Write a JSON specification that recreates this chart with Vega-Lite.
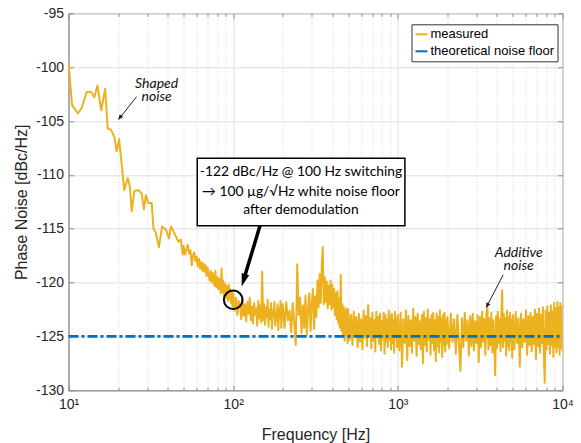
{
"$schema": "https://vega.github.io/schema/vega-lite/v6.json",
"width": 494, "height": 377,
"autosize": {"type": "none"},
"padding": {"left": 68.5, "top": 13.3, "right": 18.5, "bottom": 52.7},
"background": "white",
"config": {
  "view": {"stroke": "#8a8a8a", "strokeWidth": 1},
  "font": "Liberation Sans"
},
"resolve": {"axis": {"x": "independent", "y": "independent"}},
"datasets": {
"measured": [
{"f":10,"v":-99.5},{"f":10.5,"v":-103.5},{"f":11.4,"v":-104.3},{"f":12,"v":-103.8},{"f":12.9,"v":-102.3},{"f":13.7,"v":-102.3},{"f":14.35,"v":-102.8},{"f":15,"v":-101.7},{"f":15.8,"v":-104},{"f":16.7,"v":-102},{"f":17.3,"v":-105.7},{"f":18.1,"v":-105.8},{"f":19,"v":-106.5},{"f":19.6,"v":-107.8},{"f":20.3,"v":-106.7},{"f":21,"v":-108.9},{"f":21.8,"v":-111.4},{"f":22.9,"v":-110.3},{"f":23.6,"v":-111.1},{"f":24.2,"v":-113.4},{"f":25.1,"v":-111.5},{"f":26.5,"v":-111.4},{"f":27.8,"v":-111.7},{"f":28.7,"v":-113.2},{"f":29.5,"v":-111.9},{"f":30.5,"v":-112.6},{"f":32,"v":-112.6},{"f":32.8,"v":-115},{"f":33.8,"v":-115.3},{"f":35.4,"v":-116.7},{"f":37,"v":-114.8},{"f":39.1,"v":-115.1},{"f":40.8,"v":-115.9},{"f":41.9,"v":-114.8},{"f":43.3,"v":-115.2},{"f":45.2,"v":-115.8},{"f":46.4,"v":-116.2},{"f":48.2,"v":-116},{"f":49.4,"v":-117.4},
{"f":50,"v":-116.6},{"f":51,"v":-117.4},{"f":52,"v":-116.9},{"f":53,"v":-116.5},{"f":54,"v":-117.3},{"f":55,"v":-117},{"f":56,"v":-118.4},{"f":57,"v":-117.5},{"f":58,"v":-117.2},{"f":59,"v":-118},{"f":60,"v":-117.6},{"f":61,"v":-118.5},{"f":62,"v":-117.8},{"f":63,"v":-118.7},{"f":64,"v":-118.1},{"f":65,"v":-118.9},{"f":66,"v":-118.2},{"f":67,"v":-119},{"f":68,"v":-118.4},{"f":69,"v":-119.4},{"f":70,"v":-118.6},{"f":71,"v":-119.3},{"f":72,"v":-119.8},{"f":73,"v":-118.9},{"f":74,"v":-120},{"f":75,"v":-119.1},{"f":76,"v":-119.7},{"f":77,"v":-120.3},{"f":78,"v":-118.9},{"f":79,"v":-120.4},{"f":80,"v":-119.5},{"f":81,"v":-120.6},{"f":82,"v":-119.6},{"f":83,"v":-120.2},{"f":84,"v":-121},{"f":85,"v":-118.7},{"f":86,"v":-120.9},{"f":87,"v":-119.8},{"f":88,"v":-121.2},{"f":89,"v":-120.1},{"f":90,"v":-121.4},{"f":91,"v":-120.3},{"f":92,"v":-121},{"f":93,"v":-121.7},{"f":94,"v":-120.2},{"f":95,"v":-121.5},{"f":96,"v":-120.6},{"f":97,"v":-121.9},{"f":98,"v":-120.8},{"f":99,"v":-122.2},
{"f":100,"v":-121},{"f":102,"v":-122.6},{"f":104,"v":-121.4},{"f":106,"v":-123},{"f":108,"v":-121.7},{"f":110,"v":-122.3},{"f":112,"v":-123.4},{"f":114,"v":-121.5},{"f":116,"v":-123.1},{"f":118,"v":-122},{"f":120,"v":-123.6},{"f":122,"v":-121.8},{"f":124,"v":-122.9},{"f":126,"v":-121.4},{"f":128,"v":-123.5},{"f":130,"v":-122.2},{"f":132,"v":-123.8},{"f":134,"v":-121.9},{"f":136,"v":-123},{"f":138,"v":-122.4},{"f":140,"v":-124},{"f":142,"v":-121.7},{"f":144,"v":-123.3},{"f":146,"v":-122.1},{"f":148,"v":-123.7},{"f":150,"v":-119},{"f":152,"v":-123.5},{"f":154,"v":-122},{"f":156,"v":-123.9},{"f":158,"v":-122.3},{"f":160,"v":-123.2},{"f":162,"v":-121.6},{"f":164,"v":-124.1},{"f":166,"v":-122.5},{"f":168,"v":-123.4},{"f":170,"v":-121.9},{"f":172,"v":-124.3},{"f":174,"v":-122.6},{"f":176,"v":-123.1},{"f":178,"v":-121.8},{"f":180,"v":-124},{"f":182,"v":-122.7},{"f":184,"v":-123.6},{"f":186,"v":-122},{"f":188,"v":-124.4},{"f":190,"v":-122.4},{"f":192,"v":-123.3},{"f":194,"v":-121.7},{"f":196,"v":-124.2},{"f":198,"v":-122.8},
{"f":200,"v":-122},{"f":205,"v":-124.2},{"f":210,"v":-121.8},{"f":215,"v":-123.5},{"f":220,"v":-122.6},{"f":225,"v":-124.6},{"f":230,"v":-121.9},{"f":235,"v":-123.8},{"f":240,"v":-125.8},{"f":245,"v":-118.3},{"f":250,"v":-123},{"f":255,"v":-121.4},{"f":260,"v":-124.7},{"f":265,"v":-122.1},{"f":270,"v":-124.2},{"f":275,"v":-121.2},{"f":280,"v":-124.9},{"f":285,"v":-122.4},{"f":290,"v":-121},{"f":295,"v":-124.5},{"f":300,"v":-122},{"f":305,"v":-120.6},{"f":310,"v":-124.3},{"f":315,"v":-121.3},{"f":320,"v":-123.2},{"f":325,"v":-119.8},{"f":330,"v":-122.3},{"f":335,"v":-119.2},{"f":340,"v":-121.9},{"f":345,"v":-118.6},{"f":350,"v":-116.7},{"f":355,"v":-122},{"f":360,"v":-119.5},{"f":365,"v":-121.8},{"f":370,"v":-119.9},{"f":375,"v":-122.4},{"f":380,"v":-120.3},{"f":385,"v":-122},{"f":390,"v":-119.8},{"f":395,"v":-122.5},{"f":400,"v":-120.2},{"f":405,"v":-122.3},{"f":410,"v":-120.6},{"f":415,"v":-123},{"f":420,"v":-121},{"f":425,"v":-123.4},{"f":430,"v":-120.8},{"f":435,"v":-123.8},{"f":440,"v":-121.5},{"f":445,"v":-124.2},{"f":450,"v":-119.3},{"f":455,"v":-124.5},{"f":460,"v":-122},{"f":465,"v":-125},{"f":470,"v":-122.3},{"f":475,"v":-125.4},{"f":480,"v":-122.6},{"f":485,"v":-124.8},{"f":490,"v":-122.4},{"f":495,"v":-125.6},
{"f":500,"v":-122.5},{"f":510,"v":-125.3},{"f":520,"v":-123},{"f":530,"v":-125.8},{"f":540,"v":-122.7},{"f":550,"v":-124.9},{"f":560,"v":-123.2},{"f":570,"v":-126},{"f":580,"v":-122.9},{"f":590,"v":-125.5},{"f":600,"v":-123.4},{"f":610,"v":-126.2},{"f":620,"v":-122.6},{"f":630,"v":-125.1},{"f":640,"v":-123.1},{"f":650,"v":-125.9},{"f":660,"v":-122.1},{"f":670,"v":-124.8},{"f":680,"v":-123.3},{"f":690,"v":-126.1},{"f":700,"v":-122.8},{"f":710,"v":-125.4},{"f":720,"v":-123.5},{"f":730,"v":-126.4},{"f":740,"v":-122.7},{"f":750,"v":-125},{"f":760,"v":-123.2},{"f":770,"v":-125.7},{"f":780,"v":-122.9},{"f":790,"v":-126.3},{"f":800,"v":-123.6},{"f":810,"v":-125.2},{"f":820,"v":-122.8},{"f":830,"v":-126.6},{"f":840,"v":-123},{"f":850,"v":-125.5},{"f":860,"v":-123.4},{"f":870,"v":-126},{"f":880,"v":-122.6},{"f":890,"v":-125.3},{"f":900,"v":-123.1},{"f":910,"v":-126.2},{"f":920,"v":-122.9},{"f":930,"v":-125.6},{"f":940,"v":-123.5},{"f":950,"v":-126.5},{"f":960,"v":-122.7},{"f":970,"v":-125.1},{"f":980,"v":-123.3},{"f":990,"v":-126},
{"f":1000,"v":-123},{"f":1020,"v":-126.3},{"f":1040,"v":-122.8},{"f":1060,"v":-127.8},{"f":1080,"v":-123.4},{"f":1100,"v":-125.6},{"f":1120,"v":-122.6},{"f":1140,"v":-127.2},{"f":1160,"v":-123.1},{"f":1180,"v":-125.9},{"f":1200,"v":-123.5},{"f":1220,"v":-126.5},{"f":1240,"v":-122.4},{"f":1260,"v":-125.4},{"f":1280,"v":-123.2},{"f":1300,"v":-126.8},{"f":1320,"v":-122.9},{"f":1340,"v":-125.7},{"f":1360,"v":-123.6},{"f":1380,"v":-126.2},{"f":1400,"v":-123},{"f":1420,"v":-127.5},{"f":1440,"v":-122.7},{"f":1460,"v":-125.8},{"f":1480,"v":-123.3},{"f":1500,"v":-126.4},{"f":1520,"v":-122.5},{"f":1540,"v":-125.3},{"f":1560,"v":-123.4},{"f":1580,"v":-126.7},{"f":1600,"v":-123},{"f":1620,"v":-125.6},{"f":1640,"v":-122.8},{"f":1660,"v":-126.3},{"f":1680,"v":-123.5},{"f":1700,"v":-127.3},{"f":1720,"v":-122.9},{"f":1740,"v":-125.9},{"f":1760,"v":-123.2},{"f":1780,"v":-126.5},{"f":1800,"v":-122.6},{"f":1820,"v":-125.5},{"f":1840,"v":-123.3},{"f":1860,"v":-126.9},{"f":1880,"v":-123},{"f":1900,"v":-125.8},{"f":1920,"v":-122.8},{"f":1940,"v":-126.4},{"f":1960,"v":-123.4},{"f":1980,"v":-125.7},
{"f":2000,"v":-123.2},{"f":2050,"v":-126.1},{"f":2100,"v":-122.9},{"f":2150,"v":-125.5},{"f":2200,"v":-123.4},{"f":2250,"v":-126.6},{"f":2300,"v":-123},{"f":2350,"v":-125.7},{"f":2400,"v":-128.2},{"f":2450,"v":-123.3},{"f":2500,"v":-126},{"f":2550,"v":-122.8},{"f":2600,"v":-125.4},{"f":2650,"v":-123.5},{"f":2700,"v":-126.8},{"f":2750,"v":-123.1},{"f":2800,"v":-125.9},{"f":2850,"v":-122.9},{"f":2900,"v":-126.3},{"f":2950,"v":-123.6},{"f":3000,"v":-125.6},{"f":3050,"v":-123},{"f":3100,"v":-127.4},{"f":3150,"v":-123.2},{"f":3200,"v":-126},{"f":3250,"v":-122.7},{"f":3300,"v":-125.5},{"f":3350,"v":-123.4},{"f":3400,"v":-126.7},{"f":3450,"v":-122.9},{"f":3500,"v":-122.3},{"f":3550,"v":-126.2},{"f":3600,"v":-123.3},{"f":3650,"v":-125.8},{"f":3700,"v":-122.8},{"f":3750,"v":-126.5},{"f":3800,"v":-123.5},{"f":3850,"v":-125.7},{"f":3900,"v":-128.6},{"f":3950,"v":-123.1},{"f":4000,"v":-126.1},{"f":4050,"v":-122.7},{"f":4100,"v":-125.6},{"f":4150,"v":-123.4},{"f":4200,"v":-126.4},{"f":4250,"v":-123},{"f":4300,"v":-120.7},{"f":4350,"v":-126},{"f":4400,"v":-122.9},{"f":4450,"v":-125.4},{"f":4500,"v":-123.3},{"f":4550,"v":-126.8},{"f":4600,"v":-122.6},{"f":4650,"v":-125.9},{"f":4700,"v":-123.2},{"f":4750,"v":-126.3},{"f":4800,"v":-122.8},{"f":4850,"v":-125.5},{"f":4900,"v":-123.4},{"f":4950,"v":-127},
{"f":5000,"v":-123},{"f":5100,"v":-126.2},{"f":5200,"v":-122.7},{"f":5300,"v":-125.6},{"f":5400,"v":-123.3},{"f":5500,"v":-127.8},{"f":5600,"v":-122.9},{"f":5700,"v":-126},{"f":5800,"v":-123.4},{"f":5900,"v":-125.5},{"f":6000,"v":-122.6},{"f":6100,"v":-126.7},{"f":6200,"v":-123.1},{"f":6300,"v":-125.8},{"f":6400,"v":-122.8},{"f":6500,"v":-126.4},{"f":6600,"v":-123.2},{"f":6700,"v":-125.7},{"f":6800,"v":-122.5},{"f":6900,"v":-127.1},{"f":7000,"v":-122.9},{"f":7100,"v":-125.9},{"f":7200,"v":-122.4},{"f":7300,"v":-126.5},{"f":7400,"v":-123},{"f":7500,"v":-125.6},{"f":7600,"v":-122.3},{"f":7700,"v":-126.8},{"f":7800,"v":-129.3},{"f":7900,"v":-122.6},{"f":8000,"v":-126.2},{"f":8100,"v":-122.2},{"f":8200,"v":-125.7},{"f":8300,"v":-122.8},{"f":8400,"v":-126.6},{"f":8500,"v":-122.1},{"f":8600,"v":-125.8},{"f":8700,"v":-122.7},{"f":8800,"v":-126.9},{"f":8900,"v":-121.9},{"f":9000,"v":-126},{"f":9100,"v":-122.4},{"f":9200,"v":-126.5},{"f":9300,"v":-121.8},{"f":9400,"v":-125.9},{"f":9500,"v":-122.3},{"f":9600,"v":-126.7},{"f":9700,"v":-121.9},{"f":9800,"v":-126.1},{"f":9900,"v":-122.2},{"f":10000,"v":-126.4}
],
"floor": [{"f":10,"v":-125},{"f":10000,"v":-125}],
"box": [{"f":60.5,"f2":1104,"v":-108.45,"v2":-114.73}],
"boxtext": [
 {"f":258,"v":-109.7,"t":"-122 dBc/Hz @ 100 Hz switching"},
 {"f":258,"v":-111.55,"t":"→ 100 µg/√Hz white noise floor"},
 {"f":258,"v":-113.3,"t":"after demodulation"}
],
"bigarrow": [{"f":145.5,"v":-114.73,"f2":116.3,"v2":-119.65}],
"bighead": [{"f":112.6,"v":-120.36,"a":17}],
"smallarrows": [
 {"f":25.9,"v":-102.74,"f2":20.6,"v2":-104.68},
 {"f":4365,"v":-119.28,"f2":3494,"v2":-122.11}
],
"smallheads": [
 {"f":20.0,"v":-104.9,"a":38},
 {"f":3428,"v":-122.37,"a":27}
],
"circle": [{"f":100,"v":-121.6}],
"notes": [
 {"f":34.3,"v":-101.6,"t":["Shaped","noise"]},
 {"f":5420,"v":-117.25,"t":["Additive","noise"]}
]
},
"layer": [
 {
  "data": {"name": "measured"},
  "mark": {"type": "line", "strokeWidth": 2, "strokeJoin": "round", "clip": true},
  "encoding": {
   "x": {"field": "f", "type": "quantitative",
    "scale": {"type": "log", "domain": [10, 10000], "nice": false},
    "axis": {
     "title": "Frequency [Hz]",
     "values": [10,20,30,40,50,60,70,80,90,100,200,300,400,500,600,700,800,900,1000,2000,3000,4000,5000,6000,7000,8000,9000,10000],
     "labelExpr": "datum.value == 10 ? '10¹' : datum.value == 100 ? '10²' : datum.value == 1000 ? '10³' : datum.value == 10000 ? '10⁴' : ''",
     "grid": true,
     "gridColor": {"condition": {"test": "indexof([10,100,1000,10000], datum.value) >= 0", "value": "#dedede"}, "value": "#d4d4d4"},
     "gridDash": {"condition": {"test": "indexof([10,100,1000,10000], datum.value) >= 0", "value": []}, "value": [1, 2]},
     "tickSize": {"condition": {"test": "indexof([10,100,1000,10000], datum.value) >= 0", "value": -5}, "value": -3},
     "tickColor": "#8a8a8a", "domainColor": "#8a8a8a",
     "labelFontSize": 14, "labelColor": "#262626", "labelPadding": 12, "labelFlush": false, "labelOverlap": false,
     "titleFontSize": 16, "titleFontWeight": "normal", "titleColor": "#262626", "titlePadding": 13
    }
   },
   "y": {"field": "v", "type": "quantitative",
    "scale": {"domain": [-130, -95], "nice": false, "zero": false},
    "axis": {
     "title": "Phase Noise [dBc/Hz]",
     "values": [-130,-125,-120,-115,-110,-105,-100,-95],
     "labelExpr": "datum.value + ''",
     "grid": true, "gridColor": "#dedede",
     "tickSize": -5, "tickColor": "#8a8a8a", "domainColor": "#8a8a8a",
     "labelFontSize": 14, "labelColor": "#262626", "labelPadding": 10,
     "titleFontSize": 16, "titleFontWeight": "normal", "titleColor": "#262626", "titlePadding": 6
    }
   },
   "color": {"datum": "measured", "type": "nominal",
    "scale": {"domain": ["measured", "theoretical noise floor"], "range": ["#EDB120", "#0072BD"]},
    "legend": {"orient": "none", "legendX": 343, "legendY": 11, "title": null,
     "symbolType": "stroke", "symbolSize": 144, "symbolStrokeWidth": 2, "symbolDash": [],
     "labelFontSize": 13, "labelColor": "#000", "labelOffset": 2,
     "strokeColor": "#333", "fillColor": "white", "padding": 3, "rowPadding": 3}
   }
  }
 },
 {
  "data": {"name": "floor"},
  "mark": {"type": "line", "strokeWidth": 2.8, "strokeDash": [10, 3, 3, 3]},
  "encoding": {
   "x": {"field": "f", "type": "quantitative",
    "axis": {"orient": "top", "title": null, "labels": false, "grid": false, "domain": false,
     "values": [10,20,30,40,50,60,70,80,90,100,200,300,400,500,600,700,800,900,1000,2000,3000,4000,5000,6000,7000,8000,9000,10000],
     "tickSize": {"condition": {"test": "indexof([10,100,1000,10000], datum.value) >= 0", "value": -5}, "value": -3},
     "tickColor": "#8a8a8a"}},
   "y": {"field": "v", "type": "quantitative",
    "axis": {"orient": "right", "title": null, "labels": false, "grid": false, "domain": false,
     "values": [-130,-125,-120,-115,-110,-105,-100,-95], "tickSize": -5, "tickColor": "#8a8a8a"}},
   "color": {"datum": "theoretical noise floor", "type": "nominal"}
  }
 },
 {
  "data": {"name": "box"},
  "mark": {"type": "rect", "fill": "white", "stroke": "black", "strokeWidth": 1.5},
  "encoding": {
   "x": {"field": "f", "type": "quantitative", "axis": null}, "x2": {"field": "f2"},
   "y": {"field": "v", "type": "quantitative", "axis": null}, "y2": {"field": "v2"}
  }
 },
 {
  "data": {"name": "boxtext"},
  "mark": {"type": "text", "font": "Lato", "fontSize": 13.8, "color": "black", "align": "center", "baseline": "middle"},
  "encoding": {
   "x": {"field": "f", "type": "quantitative", "axis": null},
   "y": {"field": "v", "type": "quantitative", "axis": null},
   "text": {"field": "t"}
  }
 },
 {
  "data": {"name": "bigarrow"},
  "mark": {"type": "rule", "color": "black", "strokeWidth": 3.5},
  "encoding": {
   "x": {"field": "f", "type": "quantitative", "axis": null}, "x2": {"field": "f2"},
   "y": {"field": "v", "type": "quantitative", "axis": null}, "y2": {"field": "v2"}
  }
 },
 {
  "data": {"name": "bighead"},
  "mark": {"type": "point", "shape": "M0,0L-0.6,-2L0.6,-2Z", "size": 169, "filled": true, "color": "black", "opacity": 1},
  "encoding": {
   "x": {"field": "f", "type": "quantitative", "axis": null},
   "y": {"field": "v", "type": "quantitative", "axis": null},
   "angle": {"field": "a", "type": "quantitative", "scale": null}
  }
 },
 {
  "data": {"name": "smallarrows"},
  "mark": {"type": "rule", "color": "#222", "strokeWidth": 1},
  "encoding": {
   "x": {"field": "f", "type": "quantitative", "axis": null}, "x2": {"field": "f2"},
   "y": {"field": "v", "type": "quantitative", "axis": null}, "y2": {"field": "v2"}
  }
 },
 {
  "data": {"name": "smallheads"},
  "mark": {"type": "point", "shape": "M0,0L-0.8,-2L0.8,-2Z", "size": 30, "filled": true, "color": "#222", "opacity": 1},
  "encoding": {
   "x": {"field": "f", "type": "quantitative", "axis": null},
   "y": {"field": "v", "type": "quantitative", "axis": null},
   "angle": {"field": "a", "type": "quantitative", "scale": null}
  }
 },
 {
  "data": {"name": "circle"},
  "mark": {"type": "point", "shape": "circle", "size": 346, "filled": false, "stroke": "black", "strokeWidth": 2, "opacity": 1},
  "encoding": {
   "x": {"field": "f", "type": "quantitative", "axis": null},
   "y": {"field": "v", "type": "quantitative", "axis": null}
  }
 },
 {
  "data": {"name": "notes"},
  "mark": {"type": "text", "font": "Lato", "fontSize": 14, "fontStyle": "italic", "lineHeight": 13, "color": "#111", "align": "center", "baseline": "middle"},
  "encoding": {
   "x": {"field": "f", "type": "quantitative", "axis": null},
   "y": {"field": "v", "type": "quantitative", "axis": null},
   "text": {"field": "t"}
  }
 }
]
}
